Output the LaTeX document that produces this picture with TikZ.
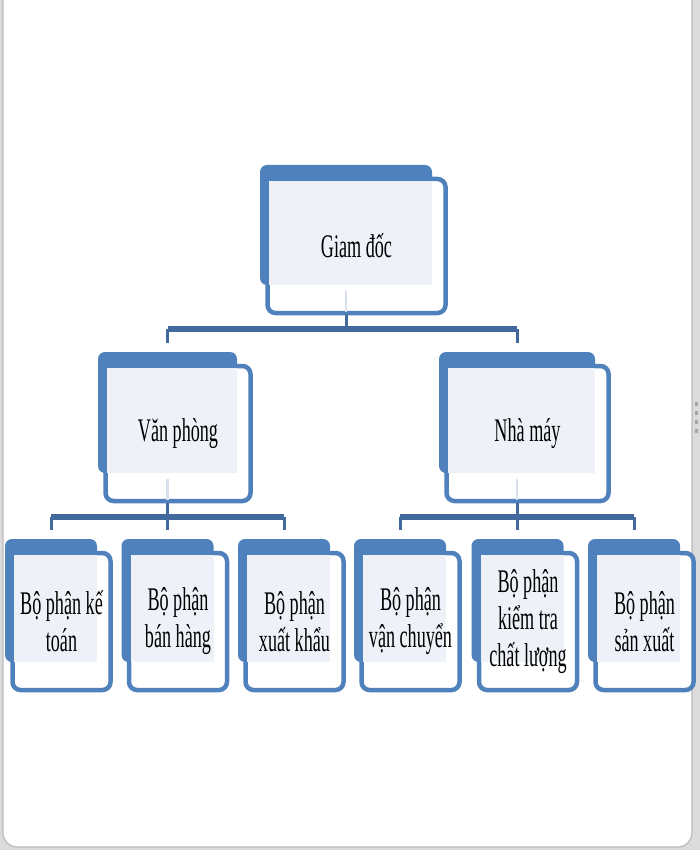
\documentclass[tikz,border=0pt]{standalone}
\usepackage{fontspec}
\setmainfont[FakeStretch=0.55]{Liberation Serif}
\usetikzlibrary{calc}
\definecolor{boxblue}{HTML}{4F81BD}
\definecolor{barblue}{HTML}{41699B}
\definecolor{boxpale}{HTML}{EEF2F8}
\definecolor{stubpale}{HTML}{D8E0EC}
\tikzset{
	backbox/.style={fill=boxblue, rounded corners=7pt, inner sep=0pt},
	frontbox/.style={fill=white, draw=boxblue, line width=4.5pt, rounded corners=8pt, inner sep=0pt},
	boxtext/.style={align=center, font=\fontsize{33}{37}\selectfont, inner sep=0pt},
	stem/.style={draw=barblue, line width=3pt},
	bar/.style={draw=barblue, line width=6pt},
	stub/.style={draw=stubpale, line width=2.5pt}
}
\def\orgbox(#1)(#2,#3)(#4:#5)#6{%
	\node[backbox, minimum width=#4pt, minimum height=#5pt] (#1-b) at (#2,#3) {};
	\node[frontbox, minimum width=#4pt+6pt, minimum height=#5pt+14pt] (#1-f) at ($(#1-b.center)+(10.5,21)$) {};
	\fill[boxpale] ($(#1-f.north west)+(4,4)$) rectangle (#1-b.south east);
	\node[boxtext] (#1) at (#1-f.center) {#6};
}

\begin{document}
\begin{tikzpicture}[x=1pt, y=-1pt]
			%%%%% START %%%%%
			\clip (0,0) rectangle (700,850);
			\fill[black!14] (0,0) rectangle (700,850);
			\draw[fill=white, draw=black!27, line width=1.2pt, rounded corners=14pt] (3,-14) rectangle (692,847);
			\foreach \k in {402,411,420,429}
				\fill[black!35] (695,\k) rectangle (697.5,\k+3.5);
			
			\orgbox(gd)(346,225)(172:120){Giam đốc}
			
			\orgbox(vp)(167.5,412.5)(139:121){Văn phòng}
			\orgbox(nm)(517,412.5)(156:121){Nhà máy}
			
			\orgbox(ketoan)(51,600.5)(92:123){Bộ phận kế\\toán}
			\orgbox(banhang)(167.5,600.5)(92:123){Bộ phận\\bán hàng}
			\orgbox(xuatkhau)(284,600.5)(92:123){Bộ phận\\xuất khẩu}
			\orgbox(vanchuyen)(400,600.5)(92:123){Bộ phận\\vận chuyển}
			\orgbox(kiemtra)(517.5,600.5)(92:123){Bộ phận\\kiểm tra\\chất lượng}
			\orgbox(sanxuat)(634,600.5)(92:123){Bộ phận\\sản xuất}
			
			% pale stubs inside the parent boxes
			\draw[stub] ($(gd-b.south)+(0,6)$) -- ($(gd-b.center |- gd-f.south)+(0,-3)$);
			\draw[stub] ($(vp-b.south)+(0,6)$) -- ($(vp-b.center |- vp-f.south)+(0,-3)$);
			\draw[stub] ($(nm-b.south)+(0,6)$) -- ($(nm-b.center |- nm-f.south)+(0,-3)$);
			
			% giam doc
			\draw[stem] (gd-b.center |- gd-f.south) -- ++(0,14) coordinate (gd-j);
			\draw[bar] (vp-b.center |- gd-j) -- (nm-b.center |- gd-j);
			\draw[stem] (vp-b.center |- gd-j) -- ($(vp-b.north)+(0,-9)$);
			\draw[stem] (nm-b.center |- gd-j) -- ($(nm-b.north)+(0,-9)$);
			
			% van phong
			\draw[stem] (vp-b.center |- vp-f.south) -- ++(0,14) coordinate (vp-j);
			\draw[bar] (ketoan-b.center |- vp-j) -- (xuatkhau-b.center |- vp-j);
			\foreach \c in {ketoan,banhang,xuatkhau}
				\draw[stem] (\c-b.center |- vp-j) -- ($(\c-b.north)+(0,-9)$);
			
			% nha may
			\draw[stem] (nm-b.center |- nm-f.south) -- ++(0,14) coordinate (nm-j);
			\draw[bar] (vanchuyen-b.center |- nm-j) -- (sanxuat-b.center |- nm-j);
			\foreach \c in {vanchuyen,kiemtra,sanxuat}
				\draw[stem] (\c-b.center |- nm-j) -- ($(\c-b.north)+(0,-9)$);
			
			%%%%% END %%%%%
\end{tikzpicture}
\end{document}
